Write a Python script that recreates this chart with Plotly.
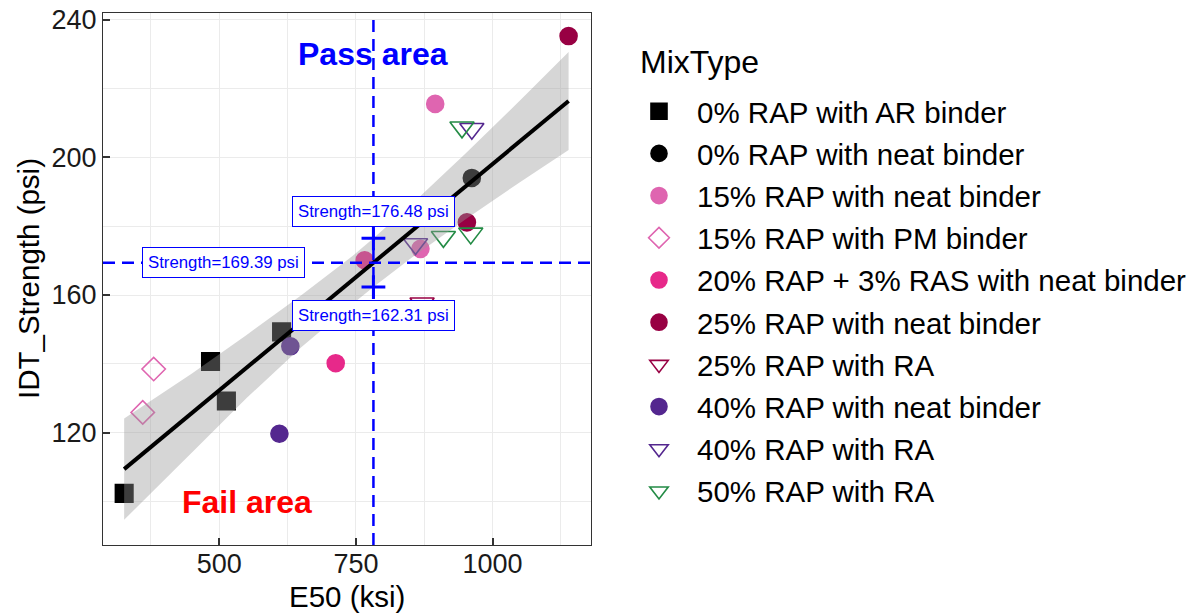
import plotly.graph_objects as go

# ---------------- data ----------------
mix_types = [
    "0% RAP with AR binder",
    "0% RAP with neat binder",
    "15% RAP with neat binder",
    "15% RAP with PM binder",
    "20% RAP + 3% RAS with neat binder",
    "25% RAP with neat binder",
    "25% RAP with RA",
    "40% RAP with neat binder",
    "40% RAP with RA",
    "50% RAP with RA",
]

e50_ar0 = [326, 484, 513, 614]
str_ar0 = [102.4, 140.7, 129.2, 149.3]
e50_neat0 = [962]
str_neat0 = [194.0]
e50_neat15 = [895, 868]
str_neat15 = [215.5, 173.4]
e50_pm15 = [380, 360]
str_pm15 = [138.5, 125.9]
e50_ras20 = [713, 766]
str_ras20 = [140.2, 170.1]
e50_neat25 = [1139, 953]
str_neat25 = [235.2, 181.1]
e50_ra25 = [871]
str_ra25 = [157.6]
e50_neat40 = [610, 630]
str_neat40 = [119.7, 145.1]
e50_ra40 = [962, 859]
str_ra40 = [208.3, 174.8]
e50_ra50 = [944, 910, 960]
str_ra50 = [208.7, 176.9, 177.9]

series_e50 = [e50_ar0, e50_neat0, e50_neat15, e50_pm15, e50_ras20,
              e50_neat25, e50_ra25, e50_neat40, e50_ra40, e50_ra50]
series_str = [str_ar0, str_neat0, str_neat15, str_pm15, str_ras20,
              str_neat25, str_ra25, str_neat40, str_ra40, str_ra50]

# linear fit and 95% band
fit_e50 = [326, 450, 550, 650, 742, 782, 850, 950, 1050, 1139]
fit_mid = [109.43, 125.73, 139.24, 152.39, 164.13, 169.39, 178.33, 191.48, 204.63, 216.34]
fit_low = [94.73, 114.28, 130.07, 144.86, 157.17, 162.31, 170.59, 181.96, 192.77, 202.14]
fit_high = [124.13, 137.18, 148.41, 159.92, 171.09, 176.48, 186.07, 201.00, 216.49, 230.54]

e50_threshold = 782
strength_pred = 169.39
strength_low = 162.31
strength_high = 176.48

x_ticks = [500, 750, 1000]
x_minor = [375, 625, 875, 1125]
y_ticks = [120, 160, 200, 240]
y_minor = [100, 140, 180, 220]

# ---------------- styles ----------------
colors = ["#000000", "#000000", "#DF65B0", "#DF65B0", "#E7298A",
          "#980043", "#980043", "#54278F", "#54278F", "#238B45"]
symbols = ["square", "circle", "circle", "diamond-open", "circle",
           "circle", "triangle-down-open", "circle", "triangle-down-open", "triangle-down-open"]
sizes = [17.5, 17, 17, 18, 17, 17, 21, 17, 21, 21]

FONT = "Liberation Sans, Arial, sans-serif"

W, H = 1197, 616

fig = go.Figure()

for i, (name, xs, ys, c, s, sz) in enumerate(zip(mix_types, series_e50, series_str, colors, symbols, sizes)):
    fig.add_trace(go.Scatter(
        x=xs, y=ys, mode="markers", name=name, legendgroup=f"g{i}",
        marker=dict(color=c, symbol=s, size=sz, line=dict(color=c, width=1.6)),
    ))

# confidence ribbon (drawn over the points, like ggplot's geom_smooth)
fig.add_trace(go.Scatter(
    x=fit_e50 + fit_e50[::-1], y=fit_high + fit_low[::-1],
    fill="toself", fillcolor="rgba(153,153,153,0.4)", line=dict(width=0),
    mode="lines", showlegend=False, hoverinfo="skip",
))
fig.add_trace(go.Scatter(
    x=fit_e50, y=fit_mid, mode="lines", line=dict(color="black", width=4),
    showlegend=False,
))

# threshold lines
fig.add_vline(x=e50_threshold, line=dict(color="#0000FF", width=2.5, dash="12px,7px"))
fig.add_hline(y=strength_pred, line=dict(color="#0000FF", width=2.5, dash="12px,7px"))

# CI markers
fig.add_trace(go.Scatter(
    x=[e50_threshold, e50_threshold], y=[strength_low, strength_high], mode="markers",
    marker=dict(symbol="cross-thin", size=17, line=dict(color="#0000FF", width=3)),
    showlegend=False,
))

lab_font = dict(family=FONT, size=16.8, color="#0000FF")
box = dict(bgcolor="white", bordercolor="#0000FF", borderwidth=1, borderpad=5, showarrow=False)
fig.add_annotation(x=e50_threshold, y=strength_high, yshift=27,
                   text=f"Strength={strength_high:.2f} psi", font=lab_font, **box)
fig.add_annotation(x=e50_threshold, y=strength_low, yshift=-28,
                   text=f"Strength={strength_low:.2f} psi", font=lab_font, **box)
fig.add_annotation(x=508, y=strength_pred,
                   text=f"Strength={strength_pred:.2f} psi", font=lab_font, **box)

fig.add_annotation(x=e50_threshold, y=230, text="<b>Pass area</b>", showarrow=False,
                   font=dict(family=FONT, size=32, color="#0000FF"))
fig.add_annotation(x=550, y=100, text="<b>Fail area</b>", showarrow=False,
                   font=dict(family=FONT, size=32, color="#FF0000"))

# axis titles and legend title
fig.add_annotation(xref="paper", yref="paper", x=0.5, y=0, yshift=-51, yanchor="middle",
                   text="E50 (ksi)", showarrow=False,
                   font=dict(family=FONT, size=29.5, color="black"))
fig.add_annotation(xref="paper", yref="paper", x=0, y=0.5, xshift=-75, xanchor="center",
                   textangle=-90, text="IDT_Strength (psi)", showarrow=False,
                   font=dict(family=FONT, size=29.5, color="black"))
fig.add_annotation(xref="paper", yref="paper", x=1.1, y=1, xshift=-2, yshift=-48.7,
                   xanchor="left", yanchor="middle", text="MixType", showarrow=False,
                   font=dict(family=FONT, size=32, color="black"))

axis_common = dict(
    showgrid=True, gridcolor="#EBEBEB", gridwidth=1.3,
    showline=True, linecolor="#333333", linewidth=1.2, mirror=True,
    ticks="inside", ticklen=7, tickwidth=2, tickcolor="#333333",
    tickfont=dict(family=FONT, size=27, color="#1a1a1a"),
    zeroline=False, automargin=False, ticklabeloverflow="allow",
)

fig.update_xaxes(range=[287.3, 1180], tickvals=x_ticks, ticklabelstandoff=-6,
                 minor=dict(tickvals=x_minor, ticks="", showgrid=True, gridcolor="#EBEBEB", gridwidth=0.7),
                 **axis_common)
fig.update_yaxes(range=[87.4, 241.9], tickvals=y_ticks,
                 minor=dict(tickvals=y_minor, ticks="", showgrid=True, gridcolor="#EBEBEB", gridwidth=0.7),
                 **axis_common)

fig.update_layout(
    width=W, height=H,
    margin=dict(l=103, r=W - 103 - 488, t=13.3, b=H - 13.3 - 531.7),
    plot_bgcolor="white", paper_bgcolor="white",
    font=dict(family=FONT, color="black"),
    showlegend=True,
    legend=dict(
        font=dict(family=FONT, size=29.5),
        xref="container", yref="container",
        x=621 / W, xanchor="left", y=1 - 85.5 / H, yanchor="top",
        itemwidth=66, bgcolor="rgba(0,0,0,0)", tracegroupgap=0.85,
    ),
)
try:
    fig.update_layout(legend_maxheight=H)
except ValueError:
    pass

fig.write_html("out.html", config={"displayModeBar": False},
               post_script="document.body.style.margin='0';")
